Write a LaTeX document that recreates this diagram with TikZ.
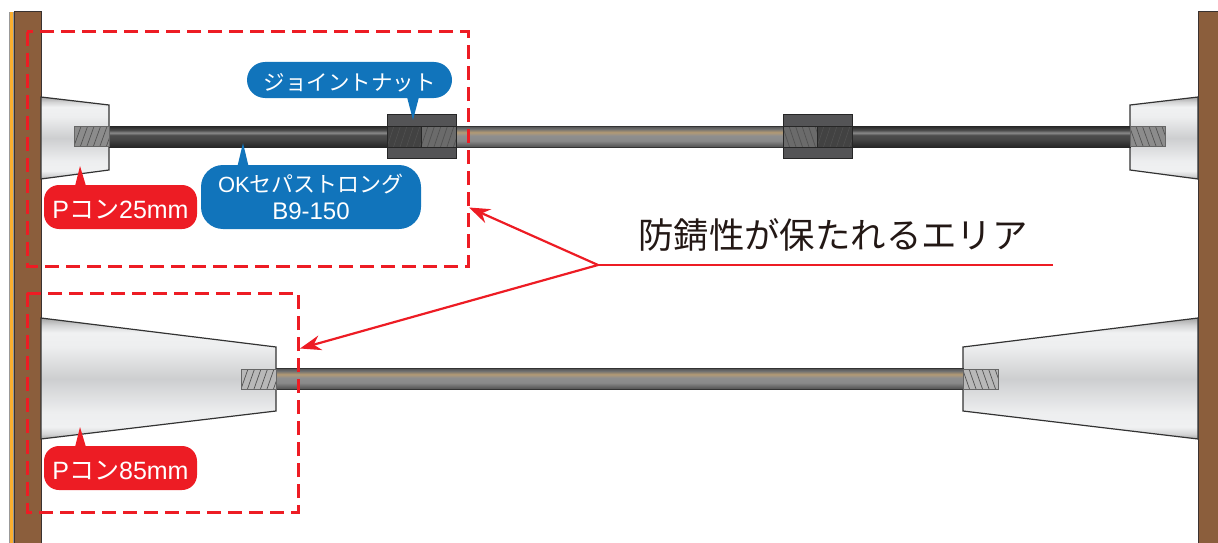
\documentclass[tikz,border=0pt]{standalone}
\usepackage{fontspec}
\setmainfont{Noto Sans CJK JP}
\newfontfamily\lat{Liberation Sans}
\usetikzlibrary{arrows.meta}
\definecolor{wallbrown}{HTML}{8B5E3C}
\definecolor{wallline}{HTML}{3A3230}
\definecolor{strip}{HTML}{FBAE2F}
\definecolor{cred}{HTML}{ED1C24}
\definecolor{cblue}{HTML}{1174BB}
\definecolor{ink}{HTML}{231815}
\definecolor{nutgrey}{HTML}{545456}
\definecolor{conelight}{HTML}{F0F1F2}
\definecolor{conemid}{HTML}{CDCED0}
\pgfdeclareverticalshading{coneshade}{100bp}{
 color(0bp)=(black!35); color(25bp)=(black!35);
 color(27bp)=(conelight!88!black); color(30bp)=(conelight); color(36bp)=(conelight!92!conemid);
 color(50bp)=(conemid); color(63bp)=(conelight!92!conemid); color(69bp)=(conelight);
 color(72bp)=(conelight!88!black); color(75bp)=(black!35); color(100bp)=(black!35)}
\pgfdeclareverticalshading{darkrod}{100bp}{
 color(0bp)=(black!85); color(25bp)=(black!85);
 color(45bp)=(black!72); color(53bp)=(black!70); color(59bp)=(black!46);
 color(65bp)=(black!70); color(75bp)=(black!85); color(100bp)=(black!85)}
\definecolor{rodstreak}{HTML}{B39A74}
\pgfdeclareverticalshading{lightrod}{100bp}{
 color(0bp)=(black!68); color(25bp)=(black!68);
 color(40bp)=(black!46); color(52bp)=(black!44); color(60bp)=(rodstreak);
 color(68bp)=(black!56); color(75bp)=(black!70); color(100bp)=(black!70)}
\tikzset{
 wall/.style={fill=wallbrown,draw=wallline,line width=1pt},
 cone/.style={shading=coneshade,draw=black!80,line width=1.2pt},
 dkrod/.style={shading=darkrod,draw=black!85,line width=1pt},
 ltrod/.style={shading=lightrod,draw=black!80,line width=1pt},
 nutedge/.style={draw=black!85,line width=1pt},
 dashbox/.style={draw=cred,line width=3pt,dash pattern=on 14pt off 7pt},
 leader/.style={draw=cred,line width=2.2pt},
 leadarrow/.style={leader,-{Stealth[length=21pt,width=15pt]}},
 redtag/.style={fill=cred,text=white,rounded corners=15pt,minimum width=153pt,minimum height=44pt,inner sep=0pt,font=\fontsize{25}{27}\selectfont},
 bluetag/.style={fill=cblue,text=white,inner sep=0pt,align=center},
 threadline/.style={draw=black!68,line width=.7pt},
}
% x1 y1 x2 y2 fill-colour
\newcommand{\threadR}[5]{%
 \fill[#5] (#1,#2) rectangle (#3,#4);
 \begin{scope}
  \clip (#1,#2) rectangle (#3,#4);
  \foreach \k in {0,6.5,...,42}{\draw[threadline] ({#1+\k},#4) -- ++(7,{#2-#4});}
 \end{scope}
 \draw[draw=black!60,line width=.7pt] (#1,#2) rectangle (#3,#4);}
\newcommand{\threadL}[5]{%
 \fill[#5] (#1,#2) rectangle (#3,#4);
 \begin{scope}
  \clip (#1,#2) rectangle (#3,#4);
  \foreach \k in {-7,-0.5,...,42}{\draw[threadline] ({#1+\k},#2) -- ++(7,{#4-#2});}
 \end{scope}
 \draw[draw=black!60,line width=.7pt] (#1,#2) rectangle (#3,#4);}
\begin{document}
\begin{tikzpicture}[x=1pt,y=-1pt]
\useasboundingbox (0,0) rectangle (1218,543);
% walls
\fill[black!40] (8.5,12) rectangle (14,543);
\fill[strip] (10,12) rectangle (13.2,543);
\draw[wall] (14,12) rectangle (41,544);
\draw[wall] (1198,12) rectangle (1219,544);
% cones
\path[cone] (41,97) -- (109,105) -- (109,170) -- (41,179) -- cycle;
\path[cone] (1198,97) -- (1130,105) -- (1130,170) -- (1198,179) -- cycle;
\path[cone] (41,318) -- (276,347) -- (276,411) -- (41,439) -- cycle;
\path[cone] (1198,318) -- (963,347) -- (963,411) -- (1198,439) -- cycle;
% top rods
\path[ltrod] (456,126) rectangle (783,147);
\path[dkrod] (109,126) rectangle (387,147);
\path[dkrod] (852,126) rectangle (1130,147);
% threads at cones (top)
\threadR{74}{126.5}{109}{146}{black!45}
\threadL{1130}{126.5}{1165}{146}{black!45}
% nuts
\fill[nutgrey] (387,114) rectangle (456,158);
\fill[nutgrey] (783,114) rectangle (852,158);
\threadR{421}{126}{456}{147}{black!58}
\threadL{783}{126}{817}{147}{black!58}
\begin{scope}
 \tikzset{threadline/.style={draw=black!68,line width=.5pt}}
 \threadR{387}{126}{421}{147}{black!74}
 \threadR{817}{126}{852}{147}{black!74}
\end{scope}
\draw[nutedge] (387,114) rectangle (456,158);
\draw[nutedge] (783,114) rectangle (852,158);
\draw[nutedge] (387,126) -- (456,126) (387,147) -- (456,147) (783,126) -- (852,126) (783,147) -- (852,147);
\draw[nutedge] (421,126) -- (421,147) (817,126) -- (817,147);
% bottom rod
\path[ltrod] (276,368) rectangle (963,389);
\threadR{241}{369}{276}{389}{black!28}
\threadL{963}{369}{998}{389}{black!28}
% dashed zones
\draw[dashbox] (27,32) rectangle (468,266);
\draw[dashbox] (27,293) rectangle (298,512);
% tags
\node[bluetag,rounded corners=18pt,minimum width=205pt,minimum height=36pt] (joint) at (349.5,80) {\raisebox{-10pt}[0pt][0pt]{\fontsize{21.5}{23}\selectfont ジョイントナット}};
\node[bluetag,rounded corners=22pt,minimum width=220pt,minimum height=64pt,font=\fontsize{22}{27}\selectfont] (ok) at (311,197) {{\lat OK}セパストロング\\{\lat\fontsize{24}{27}\selectfont B9-150}};
\node[redtag] (p25) at (120.5,207) {\raisebox{-11pt}[0pt][0pt]{{\lat P}コン{\lat 25mm}}};
\node[redtag] (p85) at (120.5,468) {\raisebox{-11pt}[0pt][0pt]{{\lat P}コン{\lat 85mm}}};
% tag pointers
\coordinate (jtip) at (413,120);
\coordinate (oktip) at (243,143);
\coordinate (p25tip) at (80,166);
\coordinate (p85tip) at (80,427);
\fill[cblue] (407,97) -- (jtip) -- (419,97) -- cycle;
\fill[cblue] (237.5,166) -- (oktip) -- (248.5,166) -- cycle;
\fill[cred] (75,186) -- (p25tip) -- (86,186) -- cycle;
\fill[cred] (75,447) -- (p85tip) -- (86,447) -- cycle;
% callout
\node[text=ink,inner sep=0pt,font=\fontsize{35.4}{38}\selectfont] (area) at (833,235) {防錆性が保たれるエリア};
\coordinate (lineend) at (1053,265);
\coordinate (fork) at (598,265);
\coordinate (a1) at (469,207.5);
\coordinate (a2) at (300,348.5);
\draw[leader] (lineend) -- (fork);
\draw[leadarrow] (fork) -- (a1);
\draw[leadarrow] (fork) -- (a2);
\end{tikzpicture}
\end{document}
